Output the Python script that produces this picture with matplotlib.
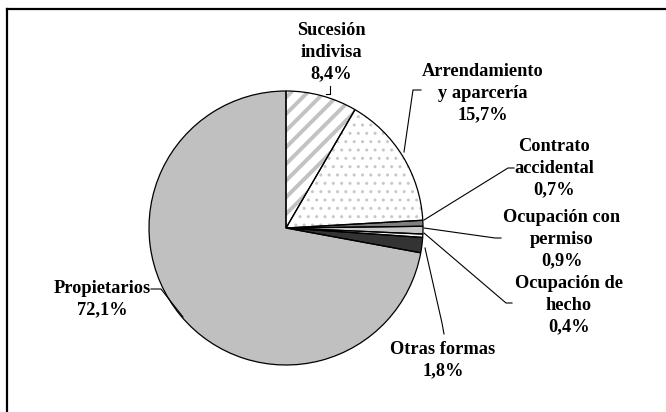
import matplotlib
matplotlib.use("Agg")
import matplotlib.pyplot as plt
from matplotlib.lines import Line2D

categories = ["Sucesión\nindivisa", "Arrendamiento\ny aparcería", "Contrato\naccidental",
              "Ocupación con\npermiso", "Ocupación de\nhecho", "Otras formas", "Propietarios"]
values = [8.4, 15.7, 0.7, 0.9, 0.4, 1.8, 72.1]
value_labels = ["8,4%", "15,7%", "0,7%", "0,9%", "0,4%", "1,8%", "72,1%"]

face_colors = ["white", "white", "#7f7f7f", "#c8c8c8", "#f2f2f2", "#333333", "#c0c0c0"]
hatches = ["//", "..", None, None, None, None, None]
hatch_colors = ["#c2c2c2", "#c8c8c8", None, None, None, None, None]
hatch_lw = [2.8, 1.0, 1, 1, 1, 1, 1]

W, H = 666, 412
fig = plt.figure(figsize=(W / 100, H / 100), dpi=100)
ax = fig.add_axes([0, 0, 1, 1])

cx, cy, R = 286, H - 228, 137

wedges, _ = ax.pie(values, colors=face_colors, startangle=90, counterclock=False,
                   center=(cx, cy), radius=R, frame=True,
                   wedgeprops=dict(linewidth=0))
for w, h, hc, hl in zip(wedges, hatches, hatch_colors, hatch_lw):
    if h:
        w.set_hatch(h)
        w.set_edgecolor(hc)
        if hasattr(w, "set_hatch_linewidth"):
            w.set_hatch_linewidth(hl)
        else:
            w._hatch_linewidth = hl

# outlines
ax.pie(values, colors=["none"] * len(values), startangle=90, counterclock=False,
       center=(cx, cy), radius=R, frame=True,
       wedgeprops=dict(linewidth=0.9, edgecolor="black", fill=False))

ax.set_xlim(0, W)
ax.set_ylim(0, H)
ax.set_aspect("equal")
ax.axis("off")

font = dict(family="Liberation Serif", weight="bold", size=13.2)

# label positions (pixel coords, origin top-left)
label_pos = [(331, 52), (483, 93), (554, 168), (562, 239), (569, 305), (443, 360), (102, 299)]
leaders = [
    [(330, 86), (330, 94), (326, 94)],
    [(421, 90), (413, 90), (404, 152)],
    [(514, 168), (508, 168), (424, 220)],
    [(501, 238), (495, 238), (424, 228)],
    [(512, 303), (506, 303), (424, 233)],
    [(444, 334), (442, 323), (425, 248)],
    [(151, 289), (161, 289), (183, 317)],
]

for cat, vl, (px, py), pts in zip(categories, value_labels, label_pos, leaders):
    ax.text(px, H - py, cat + "\n" + vl, ha="center", va="center",
            linespacing=1.38, color="black", **font)
    xs = [p[0] for p in pts]
    ys = [H - p[1] for p in pts]
    ax.add_line(Line2D(xs, ys, color="black", linewidth=0.8))

# frame (top and left only)
fig.add_artist(Line2D([7 / W, 1], [1 - 9 / H, 1 - 9 / H], transform=fig.transFigure,
                      color="black", linewidth=1.6))
fig.add_artist(Line2D([7 / W, 7 / W], [0, 1 - 9 / H], transform=fig.transFigure,
                      color="black", linewidth=1.6))

fig.savefig("out.png", dpi=100)
